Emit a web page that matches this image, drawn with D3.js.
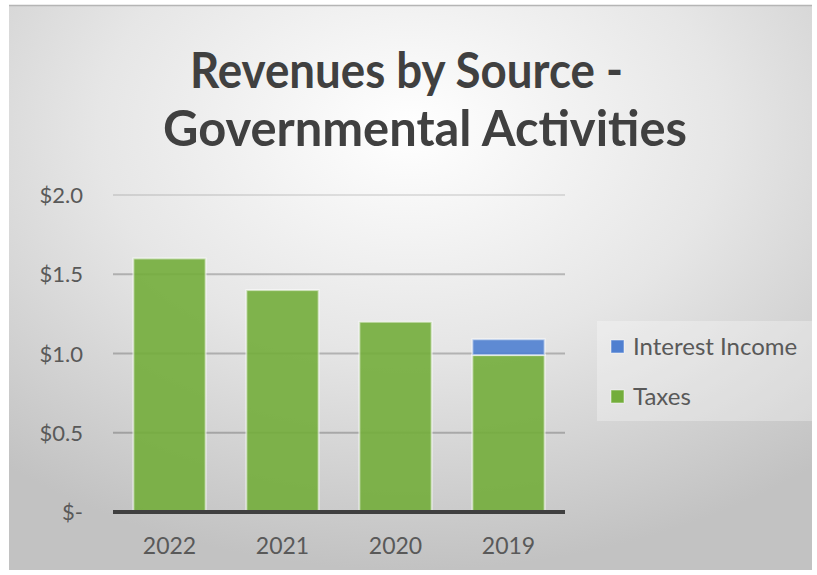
<!DOCTYPE html>
<meta charset="utf-8">
<head>
    <script type="text/javascript" src="https://cdn.jsdelivr.net/npm/d3@7/dist/d3.min.js"></script>
    <style>
        body { margin: 0; background: #fff; }
        text { font-family: Lato, "Open Sans", sans-serif; }
    </style>
</head>
<body>
<script>
    // chart data
    var years = ["2022", "2021", "2020", "2019"];
    var taxes = [1.6, 1.4, 1.2, 0.99];
    var interestIncome = [0, 0, 0, 0.1];
    var seriesNames = ["Interest Income", "Taxes"];
    var seriesColors = {"Interest Income": "#4f7fd0", "Taxes": "#73ad3b"};
    var yTicks = [0, 0.5, 1.0, 1.5, 2.0];
    var titleLines = ["Revenues by Source -", "Governmental Activities"];

    var w = 817, h = 575;
    var svg = d3.select("body").append("svg")
        .attr("width", w)
        .attr("height", h);

    var defs = svg.append("defs");
    var grad = defs.append("radialGradient")
        .attr("id", "bg")
        .attr("cx", "50%").attr("cy", "22%").attr("r", "78%");
    grad.append("stop").attr("offset", "0%").attr("stop-color", "#ffffff");
    grad.append("stop").attr("offset", "50%").attr("stop-color", "#e6e6e6");
    grad.append("stop").attr("offset", "100%").attr("stop-color", "#c2c2c2");

    // chart area
    svg.append("rect")
        .attr("x", 9).attr("y", 5)
        .attr("width", 803).attr("height", 565)
        .attr("fill", "url(#bg)");
    svg.append("line")
        .attr("x1", 9).attr("x2", 812)
        .attr("y1", 5.5).attr("y2", 5.5)
        .attr("stroke", "#b5b5b5").attr("stroke-width", 1.5);

    // title (Calibri-like width, squeezed to fit)
    var titleX = [190, 163], titleW = [433, 524];
    svg.append("g").selectAll("text")
        .data(titleLines)
        .enter().append("text")
        .attr("x", function(d, i) { return titleX[i]; })
        .attr("y", function(d, i) { return 88 + i * 58; })
        .attr("font-size", 49)
        .attr("font-weight", "bold")
        .attr("fill", "#404040")
        .attr("textLength", function(d, i) { return titleW[i]; })
        .attr("lengthAdjust", "spacingAndGlyphs")
        .text(function(d) { return d; });

    var x = d3.scaleBand()
        .domain(years)
        .range([113, 565])
        .paddingInner(0.36)
        .paddingOuter(0.18);

    var y = d3.scaleLinear()
        .domain([0, 2])
        .range([512, 195]);

    // gridlines
    svg.append("g")
        .selectAll("line")
        .data(yTicks.filter(function(d) { return d > 0; }))
        .enter().append("line")
        .attr("x1", 113).attr("x2", 565)
        .attr("y1", function(d) { return y(d); })
        .attr("y2", function(d) { return y(d); })
        .attr("stroke", "#000")
        .attr("stroke-opacity", function(d) { return d == 2 ? 0.1 : 0.22; })
        .attr("stroke-width", 2);

    // y labels, accounting style
    var fmt = function(d) { return d === 0 ? "$-" : "$" + d3.format(".1f")(d); };
    svg.append("g")
        .selectAll("text")
        .data(yTicks)
        .enter().append("text")
        .attr("x", 83)
        .attr("y", function(d) { return y(d) + 8; })
        .attr("text-anchor", "end")
        .attr("font-size", 22)
        .attr("fill", "#595959")
        .text(fmt);

    // stacked bars
    var rows = years.map(function(yr, i) {
        return {year: yr, "Taxes": taxes[i], "Interest Income": interestIncome[i]};
    });
    var stack = d3.stack().keys(["Taxes", "Interest Income"]);
    var layers = stack(rows);

    svg.append("g")
        .selectAll("g")
        .data(layers)
        .enter().append("g")
        .attr("fill", function(d) { return seriesColors[d.key]; })
        .selectAll("rect")
        .data(function(d) { return d.filter(function(p) { return p[1] - p[0] > 0; }); })
        .enter().append("rect")
        .attr("x", function(d) { return x(d.data.year); })
        .attr("width", x.bandwidth())
        .attr("y", function(d) { return y(d[1]); })
        .attr("height", function(d) { return y(d[0]) - y(d[1]); })
        .attr("fill-opacity", 0.9)
        .attr("stroke", "#ffffff")
        .attr("stroke-opacity", 0.55)
        .attr("stroke-width", 2);

    // x axis line
    svg.append("line")
        .attr("x1", 113).attr("x2", 565)
        .attr("y1", y(0)).attr("y2", y(0))
        .attr("stroke", "#404040")
        .attr("stroke-width", 4);

    // x labels
    svg.append("g")
        .selectAll("text")
        .data(years)
        .enter().append("text")
        .attr("x", function(d) { return x(d) + x.bandwidth() / 2; })
        .attr("y", 554)
        .attr("text-anchor", "middle")
        .attr("font-size", 23)
        .attr("fill", "#595959")
        .text(function(d) { return d; });

    // legend
    var legend = svg.append("g");
    legend.append("rect")
        .attr("x", 597).attr("y", 321)
        .attr("width", 215).attr("height", 100)
        .attr("fill", "#ffffff")
        .attr("fill-opacity", 0.3);
    var items = legend.selectAll("g.item")
        .data(seriesNames)
        .enter().append("g")
        .attr("class", "item")
        .attr("transform", function(d, i) { return "translate(611," + (340 + i * 50) + ")"; });
    items.append("rect")
        .attr("width", 13).attr("height", 13)
        .attr("fill", function(d) { return seriesColors[d]; })
        .attr("stroke", "#fff").attr("stroke-opacity", 0.5);
    items.append("text")
        .attr("x", 22)
        .attr("y", 15)
        .attr("font-size", 24)
        .attr("fill", "#595959")
        .text(function(d) { return d; });
</script>
</body>
</html>
